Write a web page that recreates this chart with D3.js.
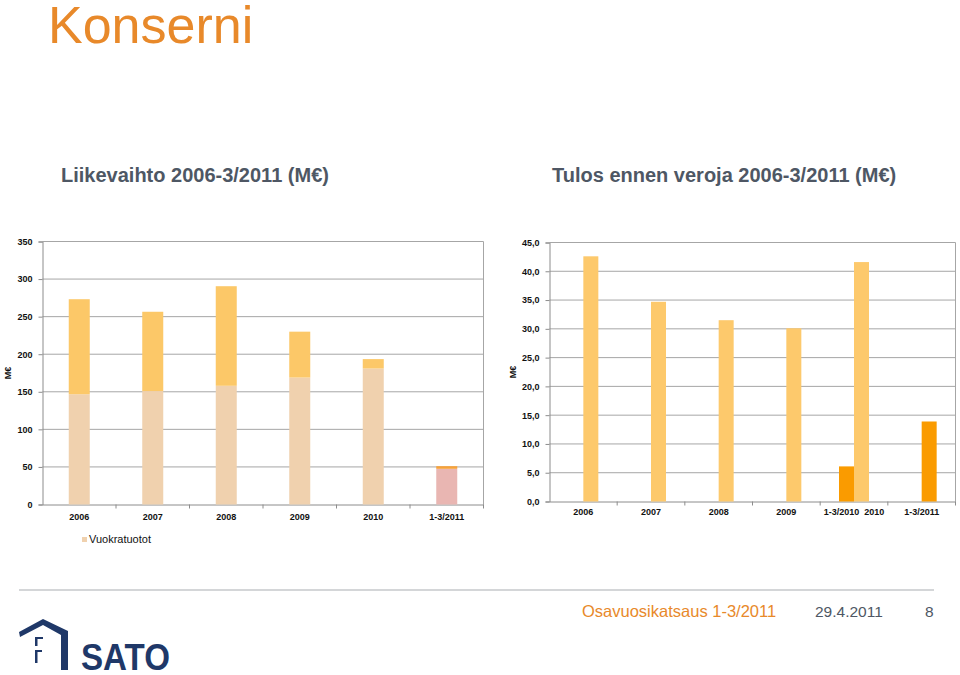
<!DOCTYPE html>
<html>
<head>
<meta charset="utf-8">
<script src="https://cdn.jsdelivr.net/npm/d3@7"></script>
<style>
  body { margin: 0; background: #fff; }
  svg { display: block; font-family: "Liberation Sans", Arial, sans-serif; }
</style>
</head>
<body>
<div id="chart"></div>
<script>
// Liikevaihto (revenue), M€
var revCats = ["2006", "2007", "2008", "2009", "2010", "1-3/2011"];
var revRental = [146.7, 151, 158, 169, 181, 47.5];
var revOther = [126.5, 105.5, 132.5, 61, 12.5, 3.5];
var revTicks = [0, 50, 100, 150, 200, 250, 300, 350];

// Tulos ennen veroja (profit before taxes), M€
var profCats = ["2006", "2007", "2008", "2009", "1-3/2010  2010", "1-3/2011"];
var profQ1 = [null, null, null, null, 6.1, null];
var profYear = [42.6, 34.7, 31.5, 30.1, 41.6, 13.9];
var profTicks = [0, 5, 10, 15, 20, 25, 30, 35, 40, 45];

var W = 960, H = 675;
var gridColor = "#a6a6a6";
var textGray = "#4e5764";
var orange = "#e8892a";

var svg = d3.select("#chart").append("svg")
    .attr("width", W)
    .attr("height", H);

// page titles
svg.append("text")
    .attr("x", 48).attr("y", 43)
    .style("font-size", "52px")
    .style("fill", orange)
    .text("Konserni");

svg.append("text")
    .attr("x", 61).attr("y", 182)
    .style("font-size", "20px").style("font-weight", "bold")
    .style("fill", textGray)
    .text("Liikevaihto 2006-3/2011 (M€)");

svg.append("text")
    .attr("x", 552).attr("y", 182)
    .style("font-size", "20px").style("font-weight", "bold")
    .style("fill", textGray)
    .text("Tulos ennen veroja 2006-3/2011 (M€)");

// draws gridlines, frame and axes for one chart, returns the y scale
function drawFrame(left, right, top, bottom, maxVal, ticks, fmt, cats, labelY, ylabelX) {
    var y = d3.scaleLinear().domain([0, maxVal]).range([bottom, top]);
    var x = d3.scaleBand().domain(cats).range([left, right]);
    var g = svg.append("g");

    g.selectAll(".grid")
        .data(ticks.filter(function (d) { return d > 0; }))
        .enter().append("line")
        .attr("x1", left).attr("x2", right)
        .attr("y1", function (d) { return y(d); })
        .attr("y2", function (d) { return y(d); })
        .style("stroke", gridColor).style("stroke-width", 1);

    g.append("line")
        .attr("x1", right).attr("x2", right)
        .attr("y1", top).attr("y2", bottom)
        .style("stroke", gridColor);

    var yAxis = d3.axisLeft(y).tickValues(ticks).tickSize(4).tickPadding(6).tickFormat(fmt);
    g.append("g")
        .attr("transform", "translate(" + left + ",0)")
        .call(yAxis)
        .call(function (a) {
            a.select(".domain").style("stroke", "#8c8c8c");
            a.selectAll(".tick line").style("stroke", "#8c8c8c");
            a.selectAll("text").style("font-size", "9px").style("font-weight", "bold")
                .style("fill", "#111").style("font-family", "Liberation Sans, Arial, sans-serif");
        });

    var xAxis = d3.axisBottom(x).tickSize(0).tickPadding(0);
    g.append("g")
        .attr("transform", "translate(0," + bottom + ")")
        .call(xAxis)
        .call(function (a) {
            a.select(".domain").style("stroke", "#8c8c8c");
            a.selectAll("text")
                .attr("dy", null)
                .attr("y", labelY)
                .style("white-space", "pre")
                .style("font-size", "9px").style("font-weight", "bold")
                .style("fill", "#111").style("font-family", "Liberation Sans, Arial, sans-serif");
        });

    // small ticks between categories
    g.selectAll(".sep")
        .data(cats.slice(1).concat([null]))
        .enter().append("line")
        .attr("x1", function (d) { return d === null ? right : x(d); })
        .attr("x2", function (d) { return d === null ? right : x(d); })
        .attr("y1", bottom).attr("y2", bottom + 4)
        .style("stroke", "#8c8c8c");

    g.append("text")
        .attr("transform", "translate(" + ylabelX + "," + ((top + bottom) / 2) + ") rotate(-90)")
        .attr("text-anchor", "middle")
        .style("font-size", "9px").style("font-weight", "bold").style("fill", "#111")
        .text("M€");

    return { x: x, y: y };
}

// left chart: stacked revenue
var L = drawFrame(42.5, 483.5, 241.5, 504.5, 350, revTicks, d3.format("d"), revCats, 15, 11);
var lbw = 21;
var revRows = revCats.map(function (c, i) {
    return { cat: c, rental: revRental[i], other: revOther[i], last: i === revCats.length - 1 };
});

svg.append("g").selectAll("rect")
    .data(revRows)
    .enter().append("rect")
    .attr("x", function (d) { return L.x(d.cat) + L.x.bandwidth() / 2 - lbw / 2; })
    .attr("width", lbw)
    .attr("y", function (d) { return L.y(d.rental); })
    .attr("height", function (d) { return L.y(0) - L.y(d.rental); })
    .style("fill", function (d) { return d.last ? "#e9b6b2" : "#f0d1ae"; });

svg.append("g").selectAll("rect")
    .data(revRows)
    .enter().append("rect")
    .attr("x", function (d) { return L.x(d.cat) + L.x.bandwidth() / 2 - lbw / 2; })
    .attr("width", lbw)
    .attr("y", function (d) { return L.y(d.rental + d.other); })
    .attr("height", function (d) { return L.y(d.rental) - L.y(d.rental + d.other); })
    .style("fill", function (d) { return d.last ? "#f7a23a" : "#fcc868"; });

// legend
svg.append("rect")
    .attr("x", 82).attr("y", 537).attr("width", 5).attr("height", 5)
    .style("fill", "#f0d1ae");
svg.append("text")
    .attr("x", 89).attr("y", 543)
    .style("font-size", "11px").style("fill", "#111")
    .text("Vuokratuotot");

// right chart: profit before taxes
var R = drawFrame(549.5, 955.5, 242.5, 501.5, 45, profTicks,
    function (d) { return d3.format(".1f")(d).replace(".", ","); }, profCats, 13, 516);
var rbw = 15;

svg.append("g").selectAll("rect")
    .data(profCats.map(function (c, i) { return { cat: c, v: profQ1[i] }; })
        .filter(function (d) { return d.v !== null; }))
    .enter().append("rect")
    .attr("x", function (d) { return R.x(d.cat) + R.x.bandwidth() / 2 - rbw; })
    .attr("width", rbw)
    .attr("y", function (d) { return R.y(d.v); })
    .attr("height", function (d) { return R.y(0) - R.y(d.v); })
    .style("fill", "#fa9b00");

svg.append("g").selectAll("rect")
    .data(profCats.map(function (c, i) { return { cat: c, v: profYear[i], last: i === profCats.length - 1 }; }))
    .enter().append("rect")
    .attr("x", function (d) { return R.x(d.cat) + R.x.bandwidth() / 2; })
    .attr("width", rbw)
    .attr("y", function (d) { return R.y(d.v); })
    .attr("height", function (d) { return R.y(0) - R.y(d.v); })
    .style("fill", function (d) { return d.last ? "#fa9b00" : "#fdc96c"; });

// footer
svg.append("line")
    .attr("x1", 19).attr("x2", 934).attr("y1", 590).attr("y2", 590)
    .style("stroke", "#a9adb2").style("stroke-width", 1.2);

svg.append("text")
    .attr("x", 582).attr("y", 617)
    .style("font-size", "16.5px").style("fill", orange)
    .text("Osavuosikatsaus 1-3/2011");
svg.append("text")
    .attr("x", 815).attr("y", 617)
    .style("font-size", "15.5px").style("fill", textGray)
    .text("29.4.2011");
svg.append("text")
    .attr("x", 925).attr("y", 617)
    .style("font-size", "15.5px").style("fill", textGray)
    .text("8");

// SATO logo
var navy = "#1f3868";
var logo = svg.append("g").style("fill", navy);
logo.append("path")
    .attr("d", "M19,632 L43,619 L68,631 L68,670 L61,670 L61,635 L43,625 L20,637 Z");
logo.append("path")
    .attr("d", "M35,637 L43,637 L43,639 L37.5,639 L37.5,646 L35,646 Z");
logo.append("path")
    .attr("d", "M35,650 L42,650 L42,652 L37.5,652 L37.5,663 L35,663 Z");
logo.append("text")
    .attr("x", 81).attr("y", 670)
    .attr("textLength", 89).attr("lengthAdjust", "spacingAndGlyphs")
    .style("font-size", "37px").style("font-weight", "bold")
    .text("SATO");
</script>
</body>
</html>
